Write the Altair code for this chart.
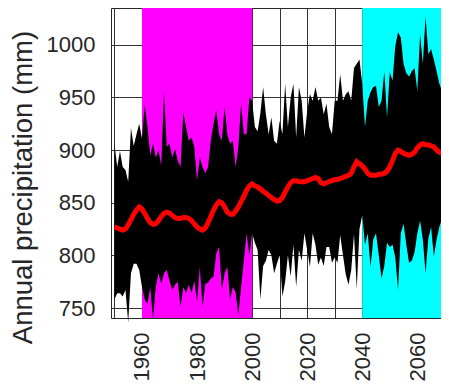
import altair as alt
import pandas as pd

years = list(range(1950, 2070))

upper = [906, 884, 899, 884, 881, 870, 921, 904, 915, 925,
         911, 943, 922, 895, 906, 893, 900, 885, 956, 903,
         906, 893, 901, 890, 884, 936, 922, 909, 912, 903,
         871, 893, 884, 878, 884, 909, 925, 938, 915, 909,
         941, 915, 906, 909, 884, 903, 944, 915, 915, 950,
         947, 922, 918, 935, 960, 934, 915, 931, 909, 906,
         928, 915, 963, 922, 950, 963, 912, 960, 947, 912,
         937, 953, 947, 960, 947, 950, 934, 944, 922, 915,
         947, 947, 972, 947, 953, 956, 947, 978, 982, 986,
         963, 922, 947, 955, 960, 961, 941, 947, 975, 931,
         974, 966, 999, 1012, 1007, 982, 973, 970, 975, 978,
         956, 1010, 982, 1027, 991, 996, 986, 975, 963, 956]

lower = [758, 764, 764, 761, 767, 736, 783, 792, 792, 786,
         770, 758, 754, 770, 739, 770, 783, 773, 783, 786,
         776, 767, 772, 775, 751, 770, 764, 772, 764, 776,
         756, 789, 751, 773, 774, 778, 780, 802, 808, 767,
         783, 789, 758, 770, 765, 743, 770, 795, 821, 800,
         821, 812, 805, 758, 790, 795, 805, 800, 783, 792,
         800, 761, 775, 800, 780, 810, 770, 805, 795, 821,
         805, 789, 821, 810, 791, 798, 790, 808, 808, 793,
         798, 793, 819, 800, 782, 772, 786, 820, 768, 825,
         838, 810, 821, 789, 815, 821, 800, 778, 790, 812,
         808, 810, 798, 767, 821, 830, 810, 793, 795, 803,
         821, 833, 815, 783, 816, 827, 799, 815, 827, 835]

mean = [827, 826, 825, 824, 825, 829, 834, 839, 843, 846,
        844, 840, 835, 831, 829.5, 830, 833, 837, 840, 841,
        840, 838, 836, 835, 835, 836, 836, 835, 833, 830,
        827, 825, 824, 826, 831, 837, 843, 848, 851, 850,
        846, 841, 839, 839, 842, 846, 851, 856, 862, 866,
        868, 866, 865, 863, 861, 859, 857, 855, 853, 851.5,
        852, 855, 860, 865, 869, 871, 871, 870, 870, 870,
        871, 872, 873, 874, 873, 869, 868, 869, 870, 871,
        872, 872, 873, 874, 875, 876, 878, 884, 889, 887,
        885, 882, 878, 876, 876, 876, 877, 877, 878, 880,
        884, 890, 897, 900, 899, 897, 896, 895, 896, 898,
        902, 905, 906, 905, 905, 904, 903, 900, 898, 897]

band_start = [1960, 2040]
band_end = [2000, 2070]
band_color = ["#FF00FF", "#00FFFF"]

df = pd.DataFrame({"year": years, "hi": upper, "lo": lower, "mean": mean})
bands = pd.DataFrame({"start": band_start, "end": band_end, "color": band_color})

XDOM = [1948.75, 2068.6]
YDOM = [740.5, 1035]

xscale = alt.Scale(domain=XDOM, nice=False, zero=False)
yscale = alt.Scale(domain=YDOM, nice=False, zero=False)

xaxis = alt.Axis(values=list(range(1950, 2070, 10)), format="d",
                 labelExpr="datum.value % 20 == 0 ? datum.label : ''",
                 labelAngle=270, labelAlign="right", labelBaseline="middle",
                 labelFontSize=22, labelColor="#262626", labelPadding=14,
                 labelOverlap=False, labelBound=False, labelFlush=False,
                 ticks=False, domain=False, grid=True, gridColor="#333333",
                 gridWidth=1, gridOpacity=1, title=None, labelFont="Liberation Sans")
yaxis = alt.Axis(values=[750, 800, 850, 900, 950, 1000], format="d",
                 labelFontSize=22, labelColor="#262626", labelPadding=16,
                 labelOverlap=False,
                 ticks=False, domain=False, grid=True, gridColor="#333333",
                 gridWidth=1, gridOpacity=1, title="Annual precipitation (mm)",
                 titleFontSize=27.5, titleFontWeight="normal", titleColor="#262626",
                 titleX=-88, titleY=179, titleAngle=270, titleAlign="center",
                 titleBaseline="middle",
                 labelFont="Liberation Sans", titleFont="Liberation Sans")

band_layer = alt.Chart(bands).mark_rect(clip=True).encode(
    x=alt.X("start:Q", scale=xscale, axis=xaxis),
    x2="end:Q",
    color=alt.Color("color:N", scale=None),
)

area_layer = alt.Chart(df).mark_area(color="black", opacity=1).encode(
    x=alt.X("year:Q", scale=xscale, axis=xaxis),
    y=alt.Y("lo:Q", scale=yscale, axis=yaxis),
    y2="hi:Q",
)

line_layer = alt.Chart(df).mark_line(color="#FF0000", strokeWidth=5, clip=True).encode(
    x=alt.X("year:Q", scale=xscale, axis=xaxis),
    y=alt.Y("mean:Q", scale=yscale, axis=yaxis),
)

chart = alt.layer(band_layer, area_layer, line_layer).properties(
    width=330, height=310,
    autosize=alt.AutoSizeParams(type="none"),
    padding={"left": 103, "top": 0, "right": 0, "bottom": 63},
    background="white",
).configure_view(stroke="#262626", strokeWidth=1)

chart.save("out.html", embed_options={"renderer": "svg", "actions": False})
